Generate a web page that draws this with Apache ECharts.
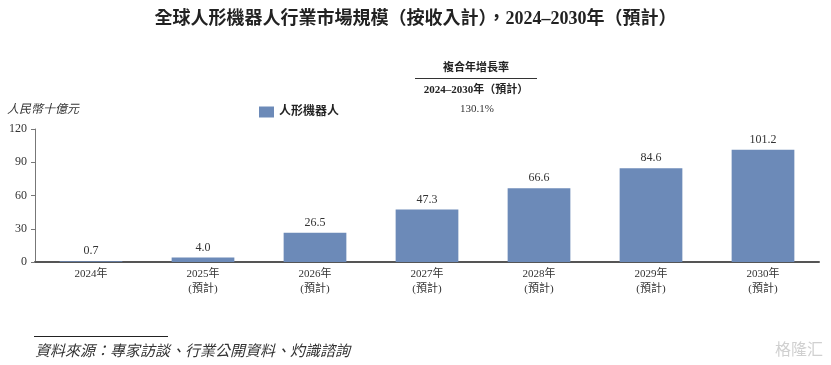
<!DOCTYPE html>
<html><head><meta charset="utf-8">
<script src="https://cdn.jsdelivr.net/npm/echarts@6/dist/echarts.min.js"></script>
<style>html,body{margin:0;padding:0;background:#fff;}#c{width:831px;height:365px;}</style>
</head><body><div id="c"></div>
<script>
const categories = ['2024年', '2025年\n(預計)', '2026年\n(預計)', '2027年\n(預計)', '2028年\n(預計)', '2029年\n(預計)', '2030年\n(預計)'];
const values = [0.7, 4.0, 26.5, 47.3, 66.6, 84.6, 101.2];
const seriesName = '人形機器人';
const yTicks = [0, 30, 60, 90, 120];
const FONT = '"Liberation Serif", "Noto Sans CJK TC", serif';
const chart = echarts.init(document.getElementById('c'));
chart.setOption({
  backgroundColor: '#fff',
  animation: false,
  textStyle: {fontFamily: FONT},
  title: {
    text: '全球人形機器人行業市場規模（按收入計），2024–2030年（預計）',
    left: 'center', top: 5,
    textStyle: {fontFamily: FONT, fontSize: 18, fontWeight: 'bold', color: '#222'}
  },
  legend: {
    data: [seriesName], left: 254, top: 101, icon: 'rect',
    itemWidth: 15, itemHeight: 11, itemGap: 6,
    textStyle: {fontFamily: FONT, fontSize: 12, fontWeight: 'bold', color: '#222'}
  },
  grid: {left: 35, right: 12, top: 129, bottom: 103},
  xAxis: {
    type: 'category', data: categories,
    axisLine: {lineStyle: {color: '#555', width: 2}},
    axisTick: {show: false},
    axisLabel: {fontFamily: FONT, fontSize: 11, color: '#333', lineHeight: 15, margin: 5}
  },
  yAxis: {
    type: 'value', min: yTicks[0], max: yTicks[yTicks.length - 1], interval: 30,
    axisLine: {show: true, lineStyle: {color: '#777', width: 1}},
    axisTick: {show: true, length: 4, lineStyle: {color: '#777'}},
    splitLine: {show: false},
    axisLabel: {fontFamily: FONT, fontSize: 12, color: '#333', margin: 8}
  },
  series: [{
    name: seriesName, type: 'bar', data: values, barWidth: '56%',
    itemStyle: {color: '#6c8ab8'},
    label: {show: true, position: 'top', distance: 4, fontFamily: FONT, fontSize: 12, color: '#333',
      formatter: p => p.value.toFixed(1)}
  }],
  graphic: [
    {type: 'text', left: 7, top: 104, style: {text: '人民幣十億元', fontFamily: FONT, fontSize: 12, fontStyle: 'italic', fill: '#333'}},
    {type: 'text', x: 476, y: 68, style: {text: '複合年增長率', fontFamily: FONT, fontSize: 11, fontWeight: 'bold', fill: '#222', align: 'center', verticalAlign: 'middle'}},
    {type: 'line', shape: {x1: 415, y1: 78.5, x2: 537, y2: 78.5}, style: {stroke: '#333', lineWidth: 1}},
    {type: 'text', x: 476, y: 90, style: {text: '2024–2030年（預計）', fontFamily: FONT, fontSize: 11, fontWeight: 'bold', fill: '#222', align: 'center', verticalAlign: 'middle'}},
    {type: 'text', x: 477, y: 109, style: {text: '130.1%', fontFamily: FONT, fontSize: 11, fill: '#333', align: 'center', verticalAlign: 'middle'}},
    {type: 'line', shape: {x1: 34, y1: 336.5, x2: 168, y2: 336.5}, style: {stroke: '#222', lineWidth: 1}},
    {type: 'text', left: 35, top: 345, style: {text: '資料來源：專家訪談、行業公開資料、灼識諮詢', fontFamily: FONT, fontSize: 15, fontStyle: 'italic', fill: '#333'}},
    {type: 'text', right: 8, top: 343, style: {text: '格隆汇', fontFamily: FONT, fontSize: 16, fill: '#d0d0d0'}}
  ]
});
</script></body></html>
